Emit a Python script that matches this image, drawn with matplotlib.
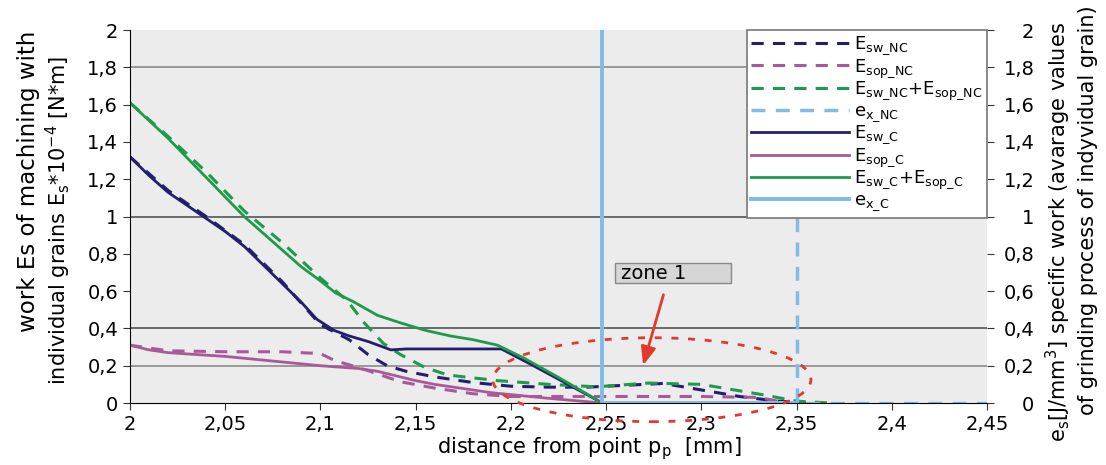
import matplotlib.pyplot as plt
import numpy as np
from matplotlib.patches import Ellipse, Rectangle

plt.rcParams["font.family"] = ["DejaVu Sans"]
plt.rcParams["mathtext.fontset"] = "dejavusans"

# E_sw  (work of machining, conventional / non-conventional)
x_sw_c = [2.000, 2.010, 2.020, 2.030, 2.040, 2.050, 2.060, 2.070, 2.080, 2.090,
          2.098, 2.107, 2.115, 2.125, 2.137, 2.145, 2.170, 2.195, 2.210, 2.230, 2.248]
sw_c = [1.32, 1.22, 1.13, 1.06, 0.99, 0.92, 0.84, 0.74, 0.64, 0.54,
        0.45, 0.39, 0.36, 0.33, 0.285, 0.29, 0.29, 0.29, 0.21, 0.10, 0.0]

x_sw_nc = [2.00, 2.02, 2.04, 2.06, 2.08, 2.10, 2.115, 2.125, 2.135, 2.145, 2.16,
           2.18, 2.20, 2.22, 2.24, 2.26, 2.28, 2.30, 2.32, 2.34, 2.355]
sw_nc = [1.32, 1.14, 1.00, 0.85, 0.65, 0.42, 0.34, 0.26, 0.20, 0.17, 0.14,
         0.11, 0.09, 0.085, 0.085, 0.095, 0.105, 0.07, 0.035, 0.01, 0.0]

# E_sop
x_sop_c = [2.00, 2.01, 2.02, 2.05, 2.08, 2.10, 2.12, 2.13, 2.15, 2.16, 2.19, 2.22, 2.248]
sop_c = [0.31, 0.285, 0.27, 0.25, 0.22, 0.20, 0.185, 0.17, 0.12, 0.10, 0.055, 0.025, 0.0]

x_sop_nc = [2.00, 2.02, 2.05, 2.08, 2.10, 2.107, 2.124, 2.142, 2.16, 2.18, 2.20,
            2.25, 2.30, 2.33, 2.345]
sop_nc = [0.31, 0.28, 0.275, 0.275, 0.265, 0.23, 0.177, 0.114, 0.08, 0.05, 0.035,
          0.035, 0.035, 0.03, 0.0]

# E_sw + E_sop
x_sum_c = [2.00, 2.02, 2.04, 2.06, 2.08, 2.09, 2.10, 2.108, 2.117, 2.13, 2.142, 2.155,
           2.168, 2.18, 2.193, 2.207, 2.228, 2.248]
sum_c = [1.61, 1.42, 1.21, 1.00, 0.82, 0.73, 0.655, 0.59, 0.545, 0.47, 0.43, 0.39,
         0.36, 0.34, 0.31, 0.24, 0.12, 0.0]

x_sum_nc = [2.00, 2.02, 2.04, 2.06, 2.08, 2.10, 2.114, 2.123, 2.133, 2.142, 2.155,
            2.167, 2.193, 2.22, 2.245, 2.272, 2.30, 2.333, 2.35, 2.368]
sum_nc = [1.61, 1.43, 1.24, 1.03, 0.86, 0.67, 0.55, 0.43, 0.32, 0.26, 0.19,
          0.15, 0.12, 0.10, 0.087, 0.107, 0.10, 0.043, 0.01, 0.0]

# e_x specific work (off scale before the edge)
x_ex_c = [2.248, 2.248, 2.35]
ex_c = [2.5, 0.0, 0.0]
x_ex_nc = [2.35, 2.35, 2.45]
ex_nc = [2.5, 0.0, 0.0]

xticks = [2.0, 2.05, 2.1, 2.15, 2.2, 2.25, 2.3, 2.35, 2.4, 2.45]
xtick_labels = ["2", "2,05", "2,1", "2,15", "2,2", "2,25", "2,3", "2,35", "2,4", "2,45"]
yticks = [0, 0.2, 0.4, 0.6, 0.8, 1.0, 1.2, 1.4, 1.6, 1.8, 2.0]
ytick_labels = ["0", "0,2", "0,4", "0,6", "0,8", "1", "1,2", "1,4", "1,6", "1,8", "2"]
grid_y = [0.2, 0.4, 1.0, 1.8]
grid_c = ["#8a8a8a", "#555555", "#555555", "#8a8a8a"]

navy = "#231f6e"
pink = "#a85a98"
green = "#1f9a4c"
sky = "#80bde6"
dash = (0, (4, 3))

fig = plt.figure(figsize=(11.06, 4.65), dpi=100)
ax = fig.add_axes([0.1175, 0.1333, 0.775, 0.802])
ax.set_facecolor("#ececec")
ax.set_xlim(2.0, 2.45)
ax.set_ylim(0, 2)

for gy, gc in zip(grid_y, grid_c):
    ax.axhline(gy, color=gc, lw=1.2, zorder=1)

h = []
h += ax.plot(x_sw_nc, sw_nc, color=navy, lw=2.2, ls=dash, label=r"$\mathrm{E_{sw\_NC}}$")
h += ax.plot(x_sop_nc, sop_nc, color=pink, lw=2.2, ls=dash, label=r"$\mathrm{E_{sop\_NC}}$")
h += ax.plot(x_sum_nc, sum_nc, color=green, lw=2.2, ls=dash,
             label=r"$\mathrm{E_{sw\_NC}{+}E_{sop\_NC}}$")
h += ax.plot(x_ex_nc, ex_nc, color=sky, lw=2.5, ls=dash, label=r"$\mathrm{e_{x\_NC}}$")
h += ax.plot(x_sw_c, sw_c, color=navy, lw=2, label=r"$\mathrm{E_{sw\_C}}$")
h += ax.plot(x_sop_c, sop_c, color=pink, lw=2, label=r"$\mathrm{E_{sop\_C}}$")
h += ax.plot(x_sum_c, sum_c, color=green, lw=2, label=r"$\mathrm{E_{sw\_C}{+}E_{sop\_C}}$")
h += ax.plot(x_ex_c, ex_c, color=sky, lw=2.8, label=r"$\mathrm{e_{x\_C}}$")

for s in ["top", "right"]:
    ax.spines[s].set_visible(False)
ax.set_xticks(xticks)
ax.set_xticklabels(xtick_labels)
ax.set_yticks(yticks)
ax.set_yticklabels(ytick_labels)
ax.tick_params(labelsize=14, length=5, color="#333333")

ax2 = ax.twinx()
ax2.set_ylim(0, 2)
ax2.set_yticks(yticks)
ax2.set_yticklabels(ytick_labels)
for s in ["top", "right", "left", "bottom"]:
    ax2.spines[s].set_visible(False)
ax2.tick_params(labelsize=14, length=5, pad=29, color="#333333")
for t in ax2.get_yticklabels():
    t.set_ha("right")

# zone 1 marker
ax2.add_patch(Ellipse((2.274, 0.125), 0.167, 0.45, fill=False, ec="#e03a2f",
                      lw=2, ls=(0, (2.5, 3.5)), clip_on=False, zorder=5))
ax2.add_patch(Rectangle((2.2547, 0.643), 0.0606, 0.107, fc="#d6d6d6", ec="#888888",
                        lw=1, zorder=6))
ax2.text(2.258, 0.696, "zone 1", fontsize=14, va="center", ha="left", zorder=7)
ax2.annotate("", xy=(2.269, 0.188), xytext=(2.2805, 0.595),
             arrowprops=dict(arrowstyle="-|>,head_length=1.1,head_width=0.45",
                             color="#e03a2f", lw=2), zorder=7)

leg = ax2.legend(handles=h, loc="upper right", bbox_to_anchor=(1.0, 1.0),
                 borderaxespad=0, fontsize=13, handlelength=5.4, labelspacing=0.0,
                 frameon=True, fancybox=False, edgecolor="#777777", framealpha=1,
                 borderpad=0.25, handletextpad=0.3)
leg.get_frame().set_linewidth(1.2)

fig.text(0.533, 0.035, r"distance from point p$_\mathrm{p}$  [mm]", fontsize=15,
         ha="center", va="center")
fig.text(0.026, 0.611, "work Es of machining with", rotation=90, fontsize=16.5,
         ha="center", va="center")
fig.text(0.053, 0.525, r"individual grains E$_\mathrm{s}$*10$^{-4}$ [N*m]", rotation=90,
         fontsize=15, ha="center", va="center")
fig.text(0.957, 0.50, r"e$_\mathrm{s}$[J/mm$^3$] specific work (avarage values",
         rotation=90, fontsize=15, ha="center", va="center")
fig.text(0.984, 0.548, "of grinding process of indyvidual grain)", rotation=90,
         fontsize=15, ha="center", va="center")

fig.savefig("out.png", dpi=100)
